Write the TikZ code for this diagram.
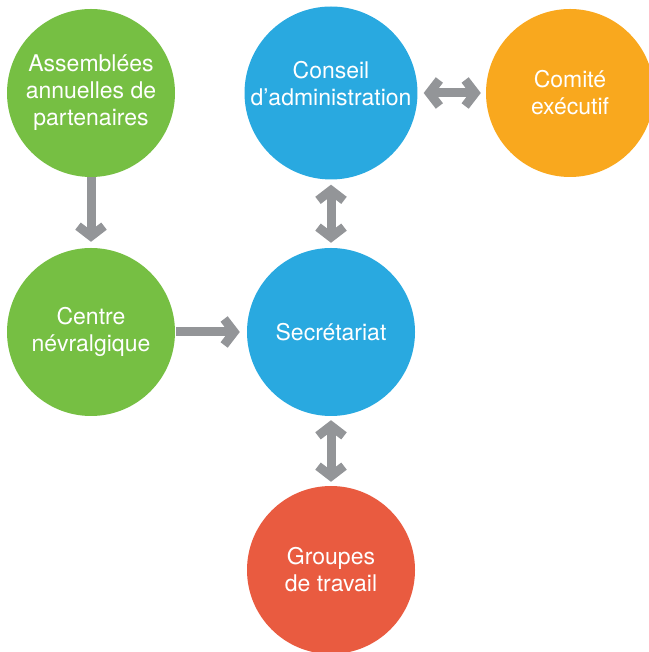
\documentclass[tikz,border=0pt]{standalone}
\usepackage{fontspec}
\setmainfont{TeX Gyre Heros}
\usetikzlibrary{arrows.meta}

\definecolor{cgreen}{HTML}{76BF43}
\definecolor{cblue}{HTML}{29A9E0}
\definecolor{corange}{HTML}{F9A81E}
\definecolor{cred}{HTML}{E95B40}
\definecolor{cgray}{HTML}{939598}

\tikzset{
    blob/.style={circle,fill=#1,minimum size=168pt,inner sep=0pt,text=white,
        align=center,font=\fontsize{23}{27}\selectfont},
    link/.style={cgray,line width=9pt,-{Straight Barb[length=10pt,width=26pt,line width=9pt]}},
    dlink/.style={cgray,line width=9pt,
        {Straight Barb[length=10pt,width=26pt,line width=9pt]}-{Straight Barb[length=10pt,width=26pt,line width=9pt]}}
}

\begin{document}
\begin{tikzpicture}[x=1pt,y=1pt]
        \useasboundingbox (0,0) rectangle (648,652);

        %circles
        \node[blob=cgreen] (assemblees) at (91,559) {Assemblées\\annuelles de\\partenaires};
        \node[blob=cblue] (conseil) at (331,559) {Conseil\\d’administration\\[-7pt]\mbox{}};
        \node[blob=corange] (comite) at (570,559) {Comité\\exécutif};
        \node[blob=cgreen] (centre) at (91,320) {Centre\\névralgique};
        \node[blob=cblue] (secretariat) at (331,320) {Secrétariat};
        \node[blob=cred] (groupes) at (331,82) {Groupes\\de travail};

        %arrows
        \draw[link,shorten >=6pt] (assemblees) -- (centre);
        \draw[link,shorten <=1pt,shorten >=7pt] (centre) -- (secretariat);
        \draw[dlink,shorten <=5pt,shorten >=5pt] (conseil) -- (secretariat);
        \draw[dlink,shorten <=6pt,shorten >=5pt] (conseil) -- (comite);
        \draw[dlink,shorten <=4pt,shorten >=4pt] (secretariat) -- (groupes);
    \end{tikzpicture}
\end{document}
